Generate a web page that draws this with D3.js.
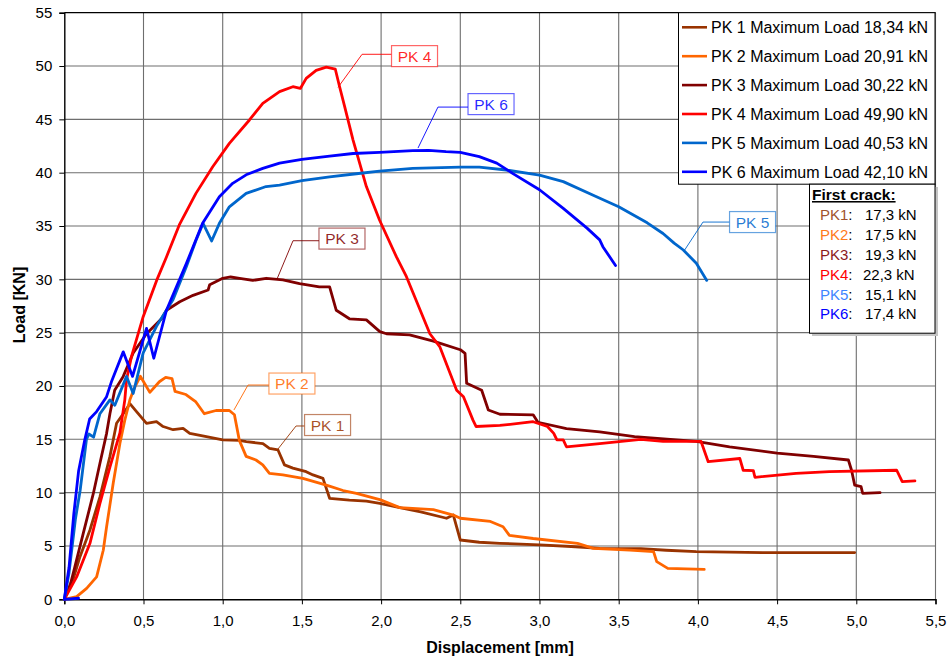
<!DOCTYPE html>
<html>
<head>
<meta charset="utf-8">
<script src="https://cdn.jsdelivr.net/npm/d3@7"></script>
<style>
  html, body { margin: 0; padding: 0; background: #fff; }
  svg { display: block; font-family: "Liberation Sans", Arial, sans-serif; }
</style>
</head>
<body>
<svg id="chart" width="949" height="656"></svg>
<script>
// Load–displacement curves of six specimens [displacement mm, load kN]
const pk1 = [[0,0],[0.05,1.6],[0.099,4.0],[0.162,6.5],[0.225,9.6],[0.288,13.4],[0.33,16.5],[0.372,17.4],[0.414,18.34],[0.456,17.6],[0.519,16.5],[0.582,16.65],[0.624,16.2],[0.687,15.9],[0.75,16.03],[0.792,15.56],[0.897,15.25],[1.0,14.94],[1.105,14.9],[1.149,14.78],[1.254,14.6],[1.295,14.16],[1.349,14.0],[1.39,12.6],[1.443,12.3],[1.527,11.97],[1.57,11.66],[1.633,11.34],[1.675,9.47],[1.8,9.3],[1.907,9.2],[1.992,9.0],[2.118,8.6],[2.25,8.2],[2.413,7.6],[2.456,7.9],[2.5,5.56],[2.62,5.35],[2.75,5.25],[3.0,5.1],[3.2,4.95],[3.38,4.78],[3.64,4.75],[3.8,4.6],[3.99,4.47],[4.2,4.42],[4.41,4.38],[4.7,4.38],[4.99,4.38]];
const pk2 = [[0,0],[0.078,0.25],[0.141,1.03],[0.204,2.1],[0.246,4.6],[0.267,6.8],[0.309,10.9],[0.351,14.6],[0.382,16.8],[0.414,18.7],[0.445,19.9],[0.48,20.91],[0.54,19.4],[0.6,20.4],[0.64,20.8],[0.68,20.7],[0.699,19.5],[0.768,19.2],[0.831,18.5],[0.884,17.4],[0.958,17.7],[1.042,17.7],[1.074,17.3],[1.105,14.9],[1.148,13.4],[1.21,13.06],[1.253,12.6],[1.295,11.8],[1.38,11.66],[1.506,11.34],[1.654,10.7],[1.76,10.2],[1.844,9.94],[1.992,9.35],[2.118,8.6],[2.33,8.4],[2.456,7.9],[2.5,7.6],[2.69,7.3],[2.77,6.8],[2.81,6.0],[2.96,5.7],[3.24,5.25],[3.34,4.78],[3.57,4.62],[3.72,4.47],[3.74,3.53],[3.81,2.9],[4.04,2.8]];
const pk3 = [[0,0],[0.04,1.5],[0.067,3.06],[0.12,6.2],[0.183,9.9],[0.225,12.75],[0.267,15.56],[0.288,17.4],[0.318,19.6],[0.372,20.9],[0.435,23.1],[0.519,24.9],[0.614,26.3],[0.645,27.1],[0.729,27.9],[0.813,28.5],[0.908,29.0],[0.918,29.5],[1.0,30.1],[1.05,30.22],[1.107,30.1],[1.19,29.9],[1.275,30.1],[1.38,29.94],[1.485,29.6],[1.61,29.3],[1.675,29.3],[1.717,27.1],[1.8,26.3],[1.907,26.2],[1.992,25.1],[2.034,24.9],[2.18,24.8],[2.33,24.2],[2.5,23.4],[2.53,23.06],[2.54,20.25],[2.635,19.6],[2.677,17.75],[2.75,17.35],[2.96,17.3],[2.99,16.6],[3.17,16.0],[3.38,15.7],[3.6,15.25],[3.99,14.8],[4.2,14.3],[4.5,13.7],[4.73,13.4],[4.95,13.06],[4.97,12.1],[4.99,10.7],[5.03,10.56],[5.04,9.94],[5.15,10.0]];
const pk4 = [[0,0],[0.078,2.1],[0.162,5.25],[0.225,9.0],[0.288,12.4],[0.351,15.6],[0.382,18.7],[0.393,20.6],[0.424,22.75],[0.498,26.5],[0.583,29.9],[0.645,32.1],[0.726,35.1],[0.831,38.06],[0.937,40.56],[1.042,42.75],[1.169,44.94],[1.253,46.5],[1.359,47.6],[1.443,48.06],[1.49,47.9],[1.527,48.84],[1.59,49.6],[1.654,49.9],[1.711,49.7],[1.738,48.06],[1.77,46.2],[1.823,43.06],[1.907,38.7],[1.99,35.56],[2.097,32.1],[2.16,30.25],[2.308,24.9],[2.37,23.7],[2.477,19.6],[2.52,19.0],[2.58,16.8],[2.6,16.2],[2.75,16.3],[2.96,16.65],[3.05,16.2],[3.09,15.56],[3.11,14.94],[3.15,14.94],[3.17,14.3],[3.38,14.6],[3.64,15.0],[3.78,14.8],[4.02,14.8],[4.065,12.9],[4.265,13.2],[4.286,12.1],[4.35,12.06],[4.36,11.44],[4.62,11.8],[4.83,11.97],[5.255,12.1],[5.29,11.03],[5.37,11.1]];
const pk5 = [[0,0],[0.03,2.5],[0.07,7.5],[0.1,10.2],[0.14,15.0],[0.155,15.5],[0.185,15.2],[0.225,17.4],[0.288,18.7],[0.319,18.2],[0.393,20.9],[0.435,19.3],[0.498,23.1],[0.582,25.6],[0.687,28.1],[0.771,31.2],[0.83,33.6],[0.876,35.25],[0.93,33.6],[0.979,35.25],[1.042,36.8],[1.148,38.06],[1.274,38.7],[1.359,38.84],[1.5,39.25],[1.675,39.6],[1.844,39.9],[1.99,40.15],[2.2,40.4],[2.5,40.53],[2.62,40.53],[2.79,40.25],[3.0,39.78],[3.15,39.16],[3.36,37.75],[3.5,36.8],[3.68,35.3],[3.78,34.3],[3.85,33.4],[3.908,32.75],[3.99,31.5],[4.056,29.9]];
const pk6 = [[0.09,0.1],[0,0],[0.03,3.0],[0.06,8.0],[0.09,12.0],[0.13,15.0],[0.16,16.9],[0.204,17.6],[0.267,19.0],[0.3,20.5],[0.372,23.2],[0.431,20.9],[0.519,25.4],[0.565,22.6],[0.645,27.1],[0.771,31.5],[0.873,35.25],[0.979,37.75],[1.063,39.0],[1.148,39.8],[1.253,40.4],[1.359,40.9],[1.5,41.25],[1.675,41.56],[1.823,41.8],[1.99,41.9],[2.2,42.06],[2.3,42.1],[2.41,41.97],[2.5,41.9],[2.62,41.5],[2.73,40.9],[2.83,39.94],[3.0,38.4],[3.15,36.65],[3.3,34.8],[3.38,33.7],[3.40,33.06],[3.48,31.3]];

const seriesNames = ["PK 1", "PK 2", "PK 3", "PK 4", "PK 5", "PK 6"];
const seriesColors = ["#993300", "#FF6600", "#800000", "#FF0000", "#0066CC", "#0000FF"];
const maxLoads = ["18,34", "20,91", "30,22", "49,90", "40,53", "42,10"];
const crackNames = ["PK1", "PK2", "PK3", "PK4", "PK5", "PK6"];
const crackLoads = ["17,3", "17,5", "19,3", "22,3", "15,1", "17,4"];
const crackColors = ["#A0522D", "#FF7A1A", "#8B1A1A", "#FF0000", "#3D85FF", "#0000FF"];
const xTicks = [0, 0.5, 1, 1.5, 2, 2.5, 3, 3.5, 4, 4.5, 5, 5.5];
const yTicks = [0, 5, 10, 15, 20, 25, 30, 35, 40, 45, 50, 55];
const curves = [pk1, pk2, pk3, pk4, pk5, pk6];

// Callouts: point on the curve, elbow of the leader, centre of the label box (data units)
const callouts = [
  { i: 0, at: [1.349, 14.09], elbow: [1.463, 16.25], box: [1.662, 16.34] },
  { i: 1, at: [1.071, 17.75], elbow: [1.16, 20.09], box: [1.437, 20.23] },
  { i: 2, at: [1.343, 30.03], elbow: [1.444, 33.62], box: [1.753, 33.82] },
  { i: 3, at: [1.728, 48.0], elbow: [1.88, 51.1], box: [2.211, 50.93] },
  { i: 4, at: [3.912, 32.65], elbow: [4.032, 35.37], box: [4.345, 35.37] },
  { i: 5, at: [2.233, 42.31], elbow: [2.359, 46.15], box: [2.694, 46.43] }
];

const svg = d3.select("#chart");
const x = d3.scaleLinear().domain([0, 5.5]).range([64.3, 935.5]);
const y = d3.scaleLinear().domain([0, 55]).range([599.3, 12.7]);
const fmt = d => d3.format(".1f")(d).replace(".", ",");

// grid
const grid = svg.append("g");
grid.selectAll("line.v").data(xTicks.slice(1)).join("line")
  .attr("x1", d => x(d)).attr("x2", d => x(d))
  .attr("y1", y(0)).attr("y2", y(55))
  .attr("stroke", "#6e6e6e").attr("stroke-width", 1.1);
grid.selectAll("line.h").data(yTicks.slice(1, -1)).join("line")
  .attr("y1", d => y(d)).attr("y2", d => y(d))
  .attr("x1", x(0)).attr("x2", x(5.5))
  .attr("stroke", "#6e6e6e").attr("stroke-width", 1.1);
svg.append("line").attr("x1", x(0)).attr("x2", x(5.5)).attr("y1", y(55)).attr("y2", y(55))
  .attr("stroke", "#000").attr("stroke-width", 1.2);

// axes
const xAxis = svg.append("g").attr("transform", `translate(0,${y(0)})`)
  .call(d3.axisBottom(x).tickValues(xTicks).tickFormat(fmt).tickSize(5).tickPadding(11));
const yAxis = svg.append("g").attr("transform", `translate(${x(0)},0)`)
  .call(d3.axisLeft(y).tickValues(yTicks).tickFormat(d3.format("d")).tickSize(5).tickPadding(7));
[xAxis, yAxis].forEach(a => {
  a.select(".domain").attr("stroke", "#000").attr("stroke-width", 1.4);
  a.selectAll(".tick line").attr("stroke", "#000");
  a.selectAll("text").attr("font-size", 15).attr("fill", "#000")
    .attr("font-family", "'Liberation Sans', Arial, sans-serif");
});

svg.append("text").attr("x", 500).attr("y", 653).attr("text-anchor", "middle")
  .attr("font-size", 16).attr("font-weight", "bold").text("Displacement [mm]");
svg.append("text").attr("transform", "translate(25,305) rotate(-90)").attr("text-anchor", "middle")
  .attr("font-size", 16).attr("font-weight", "bold").text("Load [KN]");

// curves
const line = d3.line().x(d => x(d[0])).y(d => y(d[1]));
svg.append("g").selectAll("path").data(curves).join("path")
  .attr("d", line).attr("fill", "none")
  .attr("stroke", (d, i) => seriesColors[i]).attr("stroke-width", 2.8)
  .attr("stroke-linejoin", "round").attr("stroke-linecap", "round");

// callouts
const cg = svg.append("g").selectAll("g").data(callouts).join("g");
cg.append("polyline")
  .attr("points", d => [d.at, d.elbow, [d.box[0] - 0.145, d.elbow[1]]].map(p => [x(p[0]), y(p[1])].join(",")).join(" "))
  .attr("fill", "none").attr("stroke", d => seriesColors[d.i]).attr("stroke-width", 0.9);
cg.append("rect")
  .attr("x", d => x(d.box[0]) - 23).attr("y", d => y(d.box[1]) - 10.5)
  .attr("width", 46).attr("height", 21)
  .attr("fill", "#fff").attr("stroke", d => seriesColors[d.i]).attr("stroke-opacity", 0.6).attr("stroke-width", 1.2);
cg.append("text")
  .attr("x", d => x(d.box[0])).attr("y", d => y(d.box[1]) + 5.6)
  .attr("text-anchor", "middle").attr("font-size", 15.5)
  .attr("fill", d => seriesColors[d.i]).attr("fill-opacity", 0.85)
  .text(d => seriesNames[d.i]);

// legend
const lg = svg.append("g");
lg.append("rect").attr("x", 678.5).attr("y", 12.7).attr("width", 256.5).attr("height", 171.5)
  .attr("fill", "#fff").attr("stroke", "#000").attr("stroke-width", 1);
seriesNames.forEach((n, i) => {
  const yy = 27.3 + i * 28.9;
  lg.append("line").attr("x1", 682).attr("x2", 707).attr("y1", yy).attr("y2", yy)
    .attr("stroke", seriesColors[i]).attr("stroke-width", 2.6);
  lg.append("text").attr("x", 711).attr("y", yy + 5.8).attr("font-size", 16)
    .text(`${n} Maximum Load ${maxLoads[i]} kN`);
});

// first crack box
const fc = svg.append("g");
fc.append("rect").attr("x", 812).attr("y", 187).attr("width", 126).attr("height", 149).attr("fill", "#c4c4c4");
fc.append("rect").attr("x", 809.5).attr("y", 184.2).attr("width", 125.5).attr("height", 149)
  .attr("fill", "#fff").attr("stroke", "#000").attr("stroke-width", 1);
fc.append("text").attr("x", 812).attr("y", 200).attr("font-size", 15.5).attr("font-weight", "bold")
  .attr("text-decoration", "underline").text("First crack:");
crackNames.forEach((n, i) => {
  const yy = 215 + i * 19.8 + 5.4;
  const t = fc.append("text").attr("x", 820).attr("y", yy).attr("font-size", 15);
  t.append("tspan").attr("fill", crackColors[i]).text(n);
  t.append("tspan").attr("fill", "#000").text(":");
  fc.append("text").attr("x", i === 3 ? 863 : 865).attr("y", yy).attr("font-size", 15).text(`${crackLoads[i]} kN`);
});
</script>
</body>
</html>
